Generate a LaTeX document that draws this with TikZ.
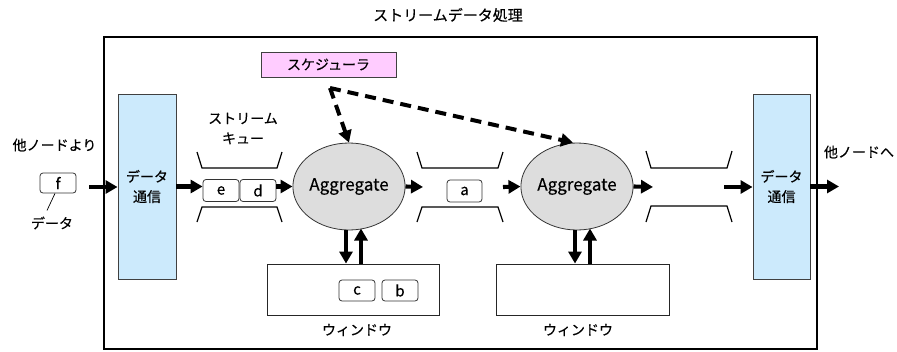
\documentclass[tikz,border=0pt]{standalone}
\usepackage{fontspec}
\setmainfont[FakeBold=0.35]{Noto Sans CJK JP}
\usetikzlibrary{arrows.meta,shapes.geometric,calc}
\definecolor{dcblue}{RGB}{204,234,252}
\definecolor{schedpink}{RGB}{255,204,255}
\definecolor{agggray}{RGB}{221,221,221}
\begin{document}
\begin{tikzpicture}[x=1pt,y=-1pt,
  jp/.style={font=\fontsize{14}{20}\selectfont, inner sep=0pt, align=center},
  databox/.style={draw=black!75, line width=0.9pt, fill=dcblue, minimum width=58pt, minimum height=185pt, inner sep=0pt, align=center, font=\fontsize{14}{20}\selectfont},
  item/.style={draw=black!80, line width=0.8pt, rounded corners=3pt, minimum width=36pt, minimum height=22pt, inner sep=0pt, font=\fontsize{15}{15}\selectfont},
  agg/.style={ellipse, draw=black!80, line width=0.8pt, fill=agggray, minimum width=90pt, minimum height=87pt, inner sep=0pt, font=\fontsize{17}{17}\selectfont},
  winbox/.style={draw=black!85, line width=0.9pt, minimum width=172pt, minimum height=51pt, inner sep=0pt},
  fat/.style={line width=4.1pt, -{Triangle[length=12pt,width=13pt]}},
  fatdash/.style={line width=4pt, dash pattern=on 11pt off 7pt, -{Triangle[length=12pt,width=13pt]}},
  bracket/.style={line width=1.2pt, black}
]
\useasboundingbox (0,0) rectangle (897,351);

% title and outer frame
\node[jp, font=\fontsize{15}{15}\selectfont] (title) at (448,15) {ストリームデータ処理};
\draw[line width=2pt] (104,37) rectangle (817,348.5);

% data communication boxes
\node[databox] (dc1) at (147,186.5) {データ\\通信};
\node[databox, minimum width=57pt] (dc2) at (781.5,186.5) {データ\\通信};

% incoming data
\node[jp] (from) at (54.5,145) {他ノードより};
\node[item, minimum height=20pt] (f) at (58,183) {f};
\node[jp] (flbl) at (52,223) {データ};
\draw[line width=0.7pt] ([xshift=-3pt]f.south) -- ([xshift=-5pt,yshift=6pt]flbl.north);
\coordinate (fin) at (89,187);
\draw[fat] (fin) -- (fin -| dc1.west);

% queue 1
\node[jp] (sqlbl) at (243,128.5) {ストリーム\\キュー};
\draw[bracket] (197,152) -- (202,168) -- (277,168) -- (282,152);
\draw[bracket] (197,222) -- (202,207) -- (277,207) -- (282,222);
\node[item] (e) at (221,190.5) {e};
\node[item] (d) at (258,190.5) {d};

% aggregates
\node[agg] (agg1) at (349,186.5) {Aggregate};
\node[agg] (agg2) at (577,186.5) {Aggregate};

\draw[fat] (dc1.east) -- (dc1.east -| e.west);
\draw[fat] (agg1.west -| d.east) -- (agg1.west);

% queue 2
\draw[bracket] (417,152) -- (422,168) -- (498,168) -- (503,152);
\draw[bracket] (417,222) -- (422,207) -- (498,207) -- (503,222);
\node[item, minimum width=35pt] (a) at (464.5,191) {a};
\coordinate (q2in) at (423,187);
\coordinate (q2out) at (503,187);
\draw[fat] (agg1.east) -- (q2in);
\draw[fat] (q2out) -- (agg2.west);

% queue 3
\draw[bracket] (646,151) -- (651,168) -- (727,168) -- (732,151);
\draw[bracket] (646,222) -- (651,206) -- (727,206) -- (732,222);
\coordinate (q3in) at (653,187);
\coordinate (q3out) at (724,187);
\draw[fat] (agg2.east) -- (q3in);
\draw[fat] (q3out) -- (q3out -| dc2.west);

% outgoing
\node[jp] (to) at (859,152) {他ノードへ};
\coordinate (out) at (839,187);
\draw[fat] (dc2.east) -- (dc2.east -| out);

% scheduler
\node[draw=black!75, line width=0.9pt, fill=schedpink, minimum width=135pt, minimum height=25pt, inner sep=0pt, font=\fontsize{14}{14}\selectfont] (sched) at (328.5,64.5) {スケジューラ};
\coordinate (sfork) at (330,88);
\draw[fatdash] (sfork) -- (agg1.north);
\draw[fatdash] (sfork) -- ([xshift=-4pt]agg2.north);

% windows
\node[winbox] (win1) at (353,289.5) {};
\node[winbox, minimum width=173pt] (win2) at (582.5,289.5) {};
\node[item, minimum height=21pt] (c) at (357,290.5) {c};
\node[item, minimum height=21pt] (b) at (400,290.5) {b};
\node[jp] (w1lbl) at (357,330) {ウィンドウ};
\node[jp] (w2lbl) at (578,330) {ウィンドウ};

\draw[fat] (346,229.5) -- (346,229.5 |- win1.north);
\draw[fat] (361,264 |- win1.north) -- (361,228.5);
\draw[fat] (575,230) -- (575,230 |- win2.north);
\draw[fat] (590,264 |- win2.north) -- (590,228.5);
\end{tikzpicture}
\end{document}
